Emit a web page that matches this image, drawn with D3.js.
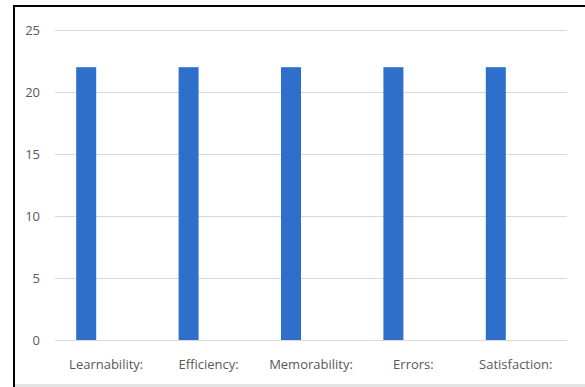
<!DOCTYPE html>
<meta charset="utf-8">
<style>
  body { margin: 0; background: #fff; }
  text { font-family: "Open Sans", "Noto Sans", sans-serif; }
</style>
<svg width="585" height="387"></svg>
<script src="https://d3js.org/d3.v7.min.js"></script>
<script>

var categories = ["Learnability:", "Efficiency:", "Memorability:", "Errors:", "Satisfaction:"];
var values = [22, 22, 22, 22, 22];
var slots = [0, 1, 2];          // clustered layout, only first slot is filled
var yTicks = [0, 5, 10, 15, 20, 25];

var svg = d3.select("svg");
var width = +svg.attr("width");
var height = +svg.attr("height");

var plotLeft = 55, plotRight = 567, plotTop = 30, plotBottom = 340;

// frame
svg.append("rect").attr("x", 0).attr("y", 0).attr("width", width).attr("height", height).attr("fill", "#fff");
svg.append("rect").attr("x", 14).attr("y", 384).attr("width", width - 14).attr("height", 3).attr("fill", "#e4e4e4");
svg.append("line").attr("x1", 14).attr("x2", width).attr("y1", 6).attr("y2", 6)
  .attr("stroke", "#000").attr("stroke-width", 2);
svg.append("line").attr("x1", 14).attr("x2", 14).attr("y1", 5).attr("y2", height)
  .attr("stroke", "#000").attr("stroke-width", 2);

var x = d3.scaleBand().domain(categories).range([plotLeft, plotRight]);
var inner = d3.scaleBand().domain(slots).range([0, x.bandwidth()]).paddingOuter(1.06);
var y = d3.scaleLinear().domain([0, 25]).range([plotBottom, plotTop]);

// gridlines
svg.append("g").selectAll("line")
  .data(yTicks)
  .enter().append("line")
  .attr("x1", plotLeft).attr("x2", plotRight)
  .attr("y1", function(d) { return Math.round(y(d)) + 0.5; })
  .attr("y2", function(d) { return Math.round(y(d)) + 0.5; })
  .attr("stroke", "#d9d9d9")
  .attr("stroke-width", 1);

// y labels
svg.append("g").selectAll("text")
  .data(yTicks)
  .enter().append("text")
  .attr("x", 40)
  .attr("y", function(d) { return y(d); })
  .attr("dy", "0.35em")
  .attr("text-anchor", "end")
  .attr("font-size", 13)
  .attr("fill", "#595959")
  .text(function(d) { return d; });

// bars
svg.append("g").selectAll("rect")
  .data(values)
  .enter().append("rect")
  .attr("x", function(d, i) { return x(categories[i]) + inner(slots[0]); })
  .attr("y", function(d) { return y(d); })
  .attr("width", inner.bandwidth())
  .attr("height", function(d) { return y(0) - y(d); })
  .attr("fill", "#2f6fcc");

// category labels
svg.append("g").selectAll("text")
  .data(categories)
  .enter().append("text")
  .attr("x", function(d) { return x(d) + x.bandwidth() / 2; })
  .attr("y", 369)
  .attr("text-anchor", "middle")
  .attr("font-size", 13)
  .attr("fill", "#595959")
  .text(function(d) { return d; });

</script>
